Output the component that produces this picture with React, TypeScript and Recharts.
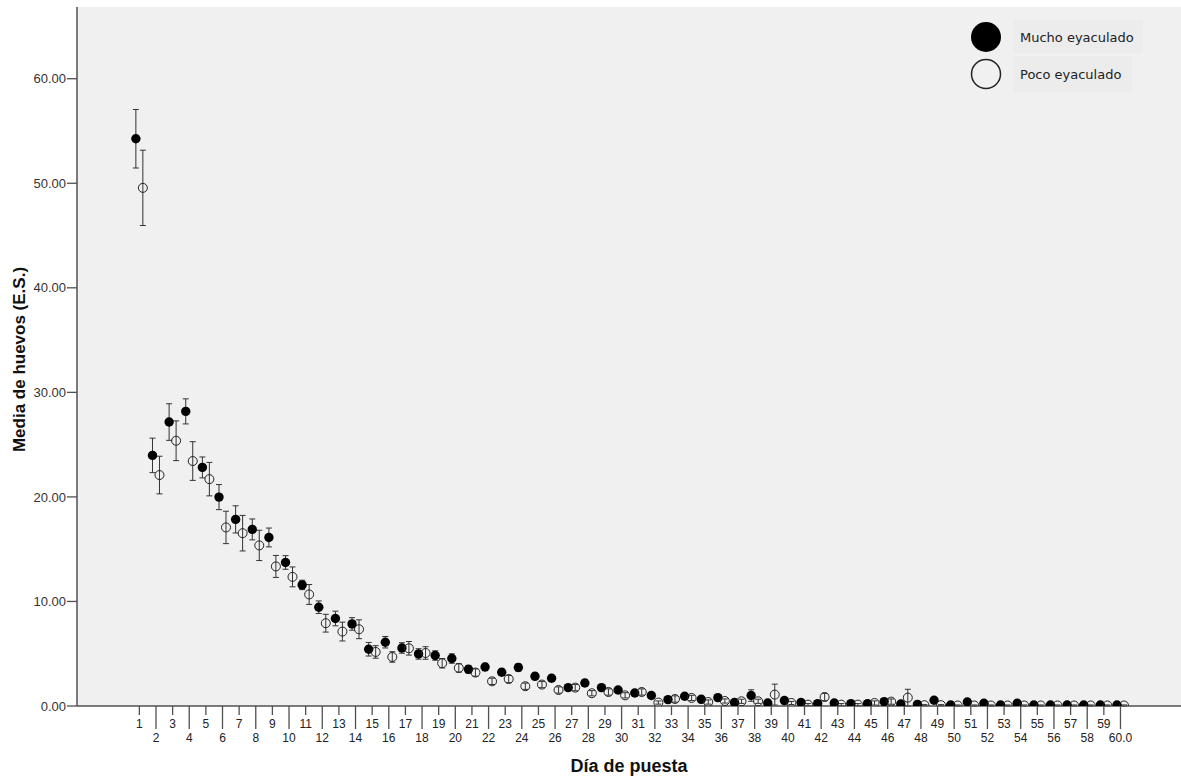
import {
  CartesianGrid,
  ErrorBar,
  Scatter,
  ScatterChart,
  XAxis,
  YAxis,
} from "recharts";

const days = Array.from({ length: 60 }, (_, i) => i + 1);

// Mucho eyaculado: mean and standard error per laying day
const muchoMean = [
  54.26, 23.97, 27.16, 28.18, 22.82, 19.98, 17.85, 16.89, 16.12, 13.73,
  11.58, 9.45, 8.37, 7.85, 5.43, 6.1, 5.55, 4.98, 4.83, 4.54,
  3.51, 3.73, 3.23, 3.68, 2.84, 2.65, 1.76, 2.2, 1.76, 1.53,
  1.24, 1.0, 0.61, 0.93, 0.64, 0.8, 0.33, 1.0, 0.29, 0.52,
  0.33, 0.23, 0.29, 0.23, 0.23, 0.42, 0.19, 0.16, 0.55, 0.1,
  0.38, 0.26, 0.1, 0.26, 0.1, 0.1, 0.1, 0.1, 0.1, 0.1,
];
const muchoSE = [
  2.8, 1.65, 1.75, 1.2, 1.0, 1.2, 1.3, 1.0, 0.9, 0.65,
  0.45, 0.6, 0.7, 0.6, 0.65, 0.55, 0.5, 0.5, 0.45, 0.45,
  0.35, 0.35, 0.3, 0.35, 0.3, 0.3, 0.25, 0.3, 0.25, 0.25,
  0.2, 0.2, 0.2, 0.2, 0.2, 0.2, 0.15, 0.55, 0.15, 0.2,
  0.15, 0.1, 0.15, 0.1, 0.1, 0.15, 0.1, 0.1, 0.2, 0.05,
  0.15, 0.1, 0.05, 0.1, 0.05, 0.05, 0.05, 0.05, 0.05, 0.05,
];

// Poco eyaculado
const pocoMean = [
  49.56, 22.09, 25.37, 23.43, 21.7, 17.08, 16.53, 15.36, 13.35, 12.35,
  10.67, 7.92, 7.12, 7.34, 5.17, 4.69, 5.52, 5.07, 4.09, 3.64,
  3.2, 2.36, 2.58, 1.89, 2.05, 1.53, 1.76, 1.22, 1.34, 1.02,
  1.34, 0.33, 0.67, 0.77, 0.38, 0.48, 0.45, 0.45, 1.09, 0.29,
  0.13, 0.86, 0.13, 0.13, 0.29, 0.42, 0.8, 0.08, 0.08, 0.05,
  0.05, 0.05, 0.05, 0.05, 0.05, 0.05, 0.05, 0.05, 0.05, 0.05,
];
const pocoSE = [
  3.6, 1.8, 1.9, 1.85, 1.6, 1.55, 1.7, 1.45, 1.05, 0.95,
  0.95, 0.85, 0.9, 0.9, 0.6, 0.5, 0.65, 0.6, 0.45, 0.4,
  0.35, 0.3, 0.35, 0.3, 0.3, 0.3, 0.3, 0.25, 0.3, 0.25,
  0.3, 0.15, 0.3, 0.25, 0.2, 0.2, 0.2, 0.2, 1.0, 0.15,
  0.1, 0.35, 0.1, 0.1, 0.2, 0.25, 0.8, 0.05, 0.05, 0.05,
  0.05, 0.05, 0.05, 0.05, 0.05, 0.05, 0.05, 0.05, 0.05, 0.05,
];

const yTicks = [0, 10, 20, 30, 40, 50, 60];

const muchoData = days.map((d, i) => ({ x: d - 0.21, y: muchoMean[i], err: muchoSE[i] }));
const pocoData = days.map((d, i) => ({ x: d + 0.21, y: pocoMean[i], err: pocoSE[i] }));

const AXIS = "#505050";
const X_DOMAIN = [-2.75, 63.64];

function DayTick(props: any) {
  const { x, y, payload } = props;
  const d = payload.value as number;
  const odd = d % 2 === 1;
  const label = d === 60 ? "60.0" : String(d);
  return (
    <g>
      <line x1={x} x2={x} y1={y} y2={y + (odd ? 9 : 23)} stroke={AXIS} strokeWidth={1.3} />
      <text x={x} y={y + (odd ? 22 : 36)} textAnchor="middle" fontSize={12} fill="#222">
        {label}
      </text>
    </g>
  );
}

const FilledDot = (p: any) => <circle cx={p.cx} cy={p.cy} r={4.7} fill="#000" />;
const OpenDot = (p: any) => (
  <circle cx={p.cx} cy={p.cy} r={4.5} fill="none" stroke="#222" strokeWidth={1} />
);

const yLabel = (props: any) => {
  const vb = props.viewBox || { x: 0, y: 7, height: 699 };
  const cx = 19;
  const cy = vb.y + vb.height / 2 + 3;
  return (
    <text
      x={cx}
      y={cy}
      transform={`rotate(-90 ${cx} ${cy})`}
      textAnchor="middle"
      dominantBaseline="central"
      fontSize={17}
      fontWeight="bold"
      fill="#111"
    >
      Media de huevos (E.S.)
    </text>
  );
};

const xLabel = (props: any) => {
  const vb = props.viewBox || { x: 77, y: 706, width: 1104 };
  return (
    <text
      x={vb.x + vb.width / 2}
      y={vb.y + 66}
      textAnchor="middle"
      fontSize={18}
      fontWeight="bold"
      fill="#111"
    >
      Día de puesta
    </text>
  );
};

function LegendBox() {
  return (
    <g fontFamily="DejaVu Sans, sans-serif" fontSize={13} fill="#222">
      <rect x={1013} y={20} width={130} height={33} fill="#ececec" />
      <rect x={1013} y={56} width={119} height={36} fill="#ececec" />
      <circle cx={986} cy={37} r={15} fill="#000" />
      <circle cx={986} cy={74} r={14.5} fill="none" stroke="#222" strokeWidth={1.5} />
      <text x={1020} y={41.5}>Mucho eyaculado</text>
      <text x={1020} y={78.5}>Poco eyaculado</text>
    </g>
  );
}

export default function App() {
  return (
    <div
      style={{
        position: "absolute",
        left: 0,
        top: 0,
        width: 1181,
        height: 778,
        background: "#fff",
        fontFamily: "'Liberation Sans', Arial, sans-serif",
      }}
    >
      <ScatterChart width={1181} height={778} margin={{ top: 7, right: 0, bottom: 0, left: 0 }}>
        <CartesianGrid fill="#f0f0f0" horizontal={false} vertical={false} />
        <XAxis
          type="number"
          dataKey="x"
          domain={X_DOMAIN}
          ticks={days}
          interval={0}
          allowDataOverflow
          height={72}
          tickSize={0}
          tickMargin={0}
          tickLine={false}
          tick={<DayTick />}
          axisLine={{ stroke: AXIS, strokeWidth: 1.5 }}
          label={xLabel}
        />
        <XAxis
          xAxisId="top"
          orientation="top"
          type="number"
          domain={X_DOMAIN}
          height={0}
          tick={false}
          tickLine={false}
          axisLine={{ stroke: AXIS, strokeWidth: 1.5 }}
        />
        <YAxis
          type="number"
          dataKey="y"
          domain={[0, 66.86]}
          ticks={yTicks}
          interval={0}
          allowDataOverflow
          width={77}
          tickSize={10}
          tickMargin={1}
          tickFormatter={(v: number) => v.toFixed(2)}
          tick={{ fontSize: 13, fill: "#333" }}
          tickLine={{ stroke: AXIS, strokeWidth: 1.3 }}
          axisLine={{ stroke: AXIS, strokeWidth: 1.5 }}
          label={yLabel}
        />
        <Scatter
          name="Mucho eyaculado"
          data={muchoData}
          shape={FilledDot}
          isAnimationActive={false}
        >
          <ErrorBar dataKey="err" direction="y" width={3} stroke="#333" strokeWidth={1} />
        </Scatter>
        <Scatter
          name="Poco eyaculado"
          data={pocoData}
          shape={OpenDot}
          isAnimationActive={false}
        >
          <ErrorBar dataKey="err" direction="y" width={3} stroke="#333" strokeWidth={1} />
        </Scatter>
        <LegendBox />
      </ScatterChart>
    </div>
  );
}
